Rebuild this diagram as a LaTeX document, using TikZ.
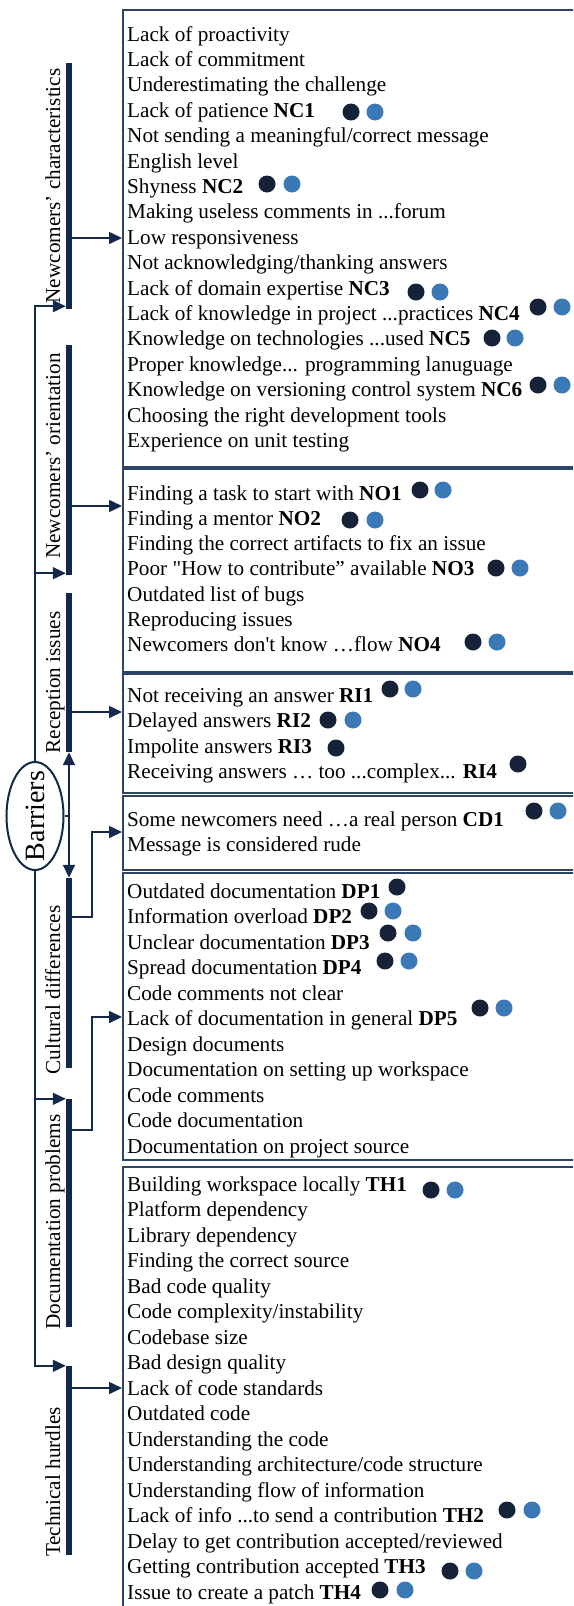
\documentclass[tikz,border=0pt]{standalone}
\usepackage{fontspec}
\usepackage{graphicx}
\setmainfont{Liberation Serif}[Ligatures=TeXOff]
\usetikzlibrary{arrows.meta,calc,shapes.geometric}
\definecolor{navy}{HTML}{14294A}
\definecolor{dotdark}{HTML}{152238}
\definecolor{dotblue}{HTML}{3B78B6}
\definecolor{boxline}{HTML}{2E4466}
\newcommand{\tdots}{.\kern0pt.\kern0pt.}
\tikzset{
  item/.style={anchor=base west, inner sep=0pt, text=black},
  lab/.style={rotate=90, anchor=base, inner sep=0pt, text=black},
  barst/.style={fill=navy, draw=none, minimum width=6pt, inner sep=0pt, rectangle},
  boxst/.style={draw=boxline, line width=1.5pt, rectangle, anchor=north west, inner sep=0pt},
  conn/.style={draw=navy, line width=1.6pt},
  arr/.style={conn, -{Triangle[length=13pt,width=12pt]}},
  dd/.style={circle, fill=dotdark, minimum size=17pt, inner sep=0pt},
  db/.style={circle, fill=dotblue, minimum size=17pt, inner sep=0pt},
}
\begin{document}
\begin{tikzpicture}[x=1pt,y=-1pt,font=\fontsize{21.2}{25.4}\selectfont]
\useasboundingbox (0,0) rectangle (573,1606);
\fill[white] (0,0) rectangle (573,1606);
\clip (0,0) rectangle (573,1606);

% boxes
\node[boxst, minimum width=480pt, minimum height=457pt] (box1) at (122,9) {};
\node[boxst, minimum width=480pt, minimum height=203pt] (box2) at (122,468) {};
\node[boxst, minimum width=480pt, minimum height=119pt] (box3) at (122,673) {};
\node[boxst, minimum width=480pt, minimum height=74pt] (box4) at (122,795) {};
\node[boxst, minimum width=480pt, minimum height=287pt] (box5) at (122,872) {};
\node[boxst, minimum width=480pt, minimum height=460pt] (box6) at (122,1166) {};

% box texts
\foreach \t [count=\i] in {{Lack of proactivity},{Lack of commitment},{Underestimating the challenge},{Lack of patience \textbf{NC1}},{Not sending a meaningful/correct message},{English level},{Shyness \textbf{NC2}},{Making useless comments in \tdots forum},{Low responsiveness},{Not acknowledging/thanking answers},{Lack of domain expertise \textbf{NC3}},{Lack of knowledge in project \tdots practices \textbf{NC4}},{Knowledge on technologies \tdots used \textbf{NC5}},{Proper knowledge\tdots{} programming lanuguage},{Knowledge on versioning control system \textbf{NC6}},{Choosing the right development tools},{Experience on unit testing}}
  \node[item] (nc\i) at (127,{41+(\i-1)*25.4}) {\t};

\foreach \t [count=\i] in {{Finding a task to start with \textbf{NO1}},{Finding a mentor \textbf{NO2}},{Finding the correct artifacts to fix an issue},{Poor "How to contribute” available \textbf{NO3}},{Outdated list of bugs},{Reproducing issues},{Newcomers don't know …flow \textbf{NO4}}}
  \node[item] (no\i) at (127,{500+(\i-1)*25.3}) {\t};

\foreach \t [count=\i] in {{Not receiving an answer \textbf{RI1}},{Delayed answers \textbf{RI2}},{Impolite answers \textbf{RI3}},{Receiving answers … too \tdots complex\tdots{} \textbf{RI4}}}
  \node[item] (ri\i) at (127,{702+(\i-1)*25.6}) {\t};

\foreach \t [count=\i] in {{Some newcomers need …a real person \textbf{CD1}},{Message is considered rude}}
  \node[item] (cd\i) at (127,{826+(\i-1)*25.4}) {\t};

\foreach \t [count=\i] in {{Outdated documentation \textbf{DP1}},{Information overload \textbf{DP2}},{Unclear documentation \textbf{DP3}},{Spread documentation \textbf{DP4}},{Code comments not clear},{Lack of documentation in general \textbf{DP5}},{Design documents},{Documentation on setting up workspace},{Code comments},{Code documentation},{Documentation on project source}}
  \node[item] (dp\i) at (127,{898+(\i-1)*25.5}) {\t};

\foreach \t [count=\i] in {{Building workspace locally \textbf{TH1}},{Platform dependency},{Library dependency},{Finding the correct source},{Bad code quality},{Code complexity/instability},{Codebase size},{Bad design quality},{Lack of code standards},{Outdated code},{Understanding the code},{Understanding architecture/code structure},{Understanding flow of information},{Lack of info \tdots to send a contribution \textbf{TH2}},{Delay to get contribution accepted/reviewed},{Getting contribution accepted \textbf{TH3}},{Issue to create a patch \textbf{TH4}}}
  \node[item] (th\i) at (127,{1191+(\i-1)*25.5}) {\t};

% dots
\foreach \nm/\xa/\xb/\yy in {NCa/351/375/112, NCb/267/292/184, NCc/416/440/292, NCd/538/562/307, NCe/492/515/338, NCf/538/562/385, NOa/420/443/490, NOb/350/375/520, NOc/496/520/568, NOd/473/497/642, RIa/390/413/689, RIb/328/353/720, CDa/534/558/811, DPb/369/393/911, DPc/388/413/933, DPd/385/409/961, DPe/480/504/1008, THa/431/455/1190, THb/507/532/1510, THc/450/474/1571, THd/380/405/1590}
{
  \node[dd] (\nm-d) at (\xa,\yy) {};
  \node[db] (\nm-b) at (\xb,\yy) {};
}
\node[dd] (RIc-d) at (336,748) {};
\node[dd] (RId-d) at (518,764) {};
\node[dd] (DPa-d) at (397,887) {};

% bars
\node[barst, minimum height=246pt] (b1) at (69,186) {};
\node[barst, minimum height=230pt] (b2) at (69,460) {};
\node[barst, minimum height=159pt] (b3) at (69,672.5) {};
\node[barst, minimum height=190pt] (b4) at (69,973) {};
\node[barst, minimum height=228pt] (b5) at (69,1213) {};
\node[barst, minimum height=189pt] (b6) at (69,1460.5) {};

% category labels
\node[lab] (l1) at (60,186) {Newcomers’ characteristics};
\node[lab] (l2) at (60,456) {Newcomers’ orientation};
\node[lab] (l3) at (60,682.5) {Reception issues};
\node[lab] (l4) at (60,990) {Cultural differences};
\node[lab] (l5) at (60,1222) {Documentation problems};
\node[lab] (l6) at (60,1482) {Technical hurdles};

% Barriers
\node[ellipse, draw=navy, line width=2pt, minimum width=57pt, minimum height=108pt, inner sep=0pt] (barr) at (35,816) {};
\node[inner sep=0pt] (barrtxt) at (barr.center) {\rotatebox{90}{\fontsize{28}{30}\selectfont Barriers}};

% spine connectors
\draw[arr] (barr.north) |- ([yshift=3pt]b1.south west);
\draw[arr] (barr.north) |- ([yshift=2pt]b2.south west);
\draw[arr] (barr.south) |- (b5.north west);
\draw[arr] (barr.south) |- (b6.north west);
\draw[conn] (barr.east) -- (b3.south |- barr.east);
\draw[arr] (b3.south |- barr.east) -- (b3.south);
\draw[arr] (b4.north |- barr.east) -- (b4.north);

% bar to box connectors
\draw[arr] (b1.east |- 0,238) -- (box1.west |- 0,238);
\draw[arr] (b2.east |- 0,506) -- (box2.west |- 0,506);
\draw[arr] (b3.east |- 0,712) -- (box3.west |- 0,712);
\draw[arr] (b4.east |- 0,917) -- (92,917) -- (92,832) -- (box4.west |- 0,832);
\draw[arr] (b5.east |- 0,1130) -- (92,1130) -- (92,1017) -- (box5.west |- 0,1017);
\draw[arr] (b6.east |- 0,1388) -- (box6.west |- 0,1388);
\end{tikzpicture}
\end{document}
